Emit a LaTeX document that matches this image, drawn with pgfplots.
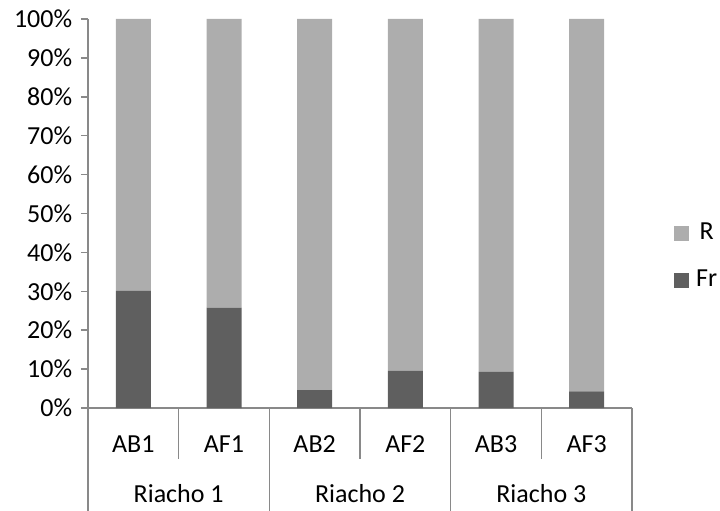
\documentclass[border=0pt]{standalone}
\usepackage{pgfplots}
\pgfplotsset{compat=1.18}
\usepackage{fontspec}
\setmainfont{Carlito}
\definecolor{frc}{HTML}{5F5F5F}
\definecolor{rc}{HTML}{ADADAD}
\definecolor{axc}{HTML}{898989}
\begin{document}
\fontsize{26bp}{31bp}\selectfont
\begin{tikzpicture}
\useasboundingbox (0,0) rectangle (720bp,511bp);
\begin{axis}[
 at={(88bp,103bp)}, anchor=south west,
 scale only axis, width=544bp, height=389bp,
 ybar stacked, bar width=35bp,
 xmin=-0.5, xmax=5.5, ymin=0, ymax=100,
 xtick={0,...,5}, xticklabels={},
 major x tick style={draw=none},
 ytick={0,10,...,100},
 yticklabel={\pgfmathprintnumber{\tick}\%},
 /pgf/number format/assume math mode=true,
 axis x line*=bottom, axis y line*=left,
 axis line style={draw=axc, line width=1.5bp},
 y tick style={draw=axc, line width=1.5bp},
 tick align=outside, major tick length=7bp,
 yticklabel style={font=\fontsize{26bp}{31bp}\selectfont},
 clip=false,
 reverse legend,
 legend style={draw=none, fill=none, at={(1.077,0.389)}, anchor=west, inner sep=0pt,
   row sep=0bp, font=\fontsize{26bp}{31bp}\selectfont,
   nodes={inner sep=0pt}},
 legend image code/.code={\path[draw=none, fill=none] (0bp,-23.5bp) rectangle (22bp,23.5bp);\fill[#1] (0bp,-7.5bp) rectangle (15bp,7.5bp);},
]
\addplot[fill=frc, draw=none] coordinates {(0,30.1) (1,25.8) (2,4.6) (3,9.6) (4,9.3) (5,4.3)};
\addlegendentry{Fr}
\addplot[fill=rc, draw=none] coordinates {(0,69.9) (1,74.2) (2,95.4) (3,90.4) (4,90.7) (5,95.7)};
\addlegendentry{R}
\pgfplotsinvokeforeach{-0.5,1.5,3.5,5.5}{\draw[axc, line width=1.5bp] (axis cs:#1,0) -- ([yshift=-103bp]axis cs:#1,0);}
\pgfplotsinvokeforeach{0.5,2.5,4.5}{\draw[axc, line width=1.5bp] (axis cs:#1,0) -- ([yshift=-51bp]axis cs:#1,0);}
\node[anchor=base, inner sep=0pt] at ([yshift=-44bp]axis cs:0,0) {AB1};
\node[anchor=base, inner sep=0pt] at ([yshift=-44bp]axis cs:1,0) {AF1};
\node[anchor=base, inner sep=0pt] at ([yshift=-44bp]axis cs:2,0) {AB2};
\node[anchor=base, inner sep=0pt] at ([yshift=-44bp]axis cs:3,0) {AF2};
\node[anchor=base, inner sep=0pt] at ([yshift=-44bp]axis cs:4,0) {AB3};
\node[anchor=base, inner sep=0pt] at ([yshift=-44bp]axis cs:5,0) {AF3};
\node[anchor=base, inner sep=0pt] at ([yshift=-94bp]axis cs:0.5,0) {Riacho 1};
\node[anchor=base, inner sep=0pt] at ([yshift=-94bp]axis cs:2.5,0) {Riacho 2};
\node[anchor=base, inner sep=0pt] at ([yshift=-94bp]axis cs:4.5,0) {Riacho 3};
\end{axis}
\end{tikzpicture}
\end{document}
